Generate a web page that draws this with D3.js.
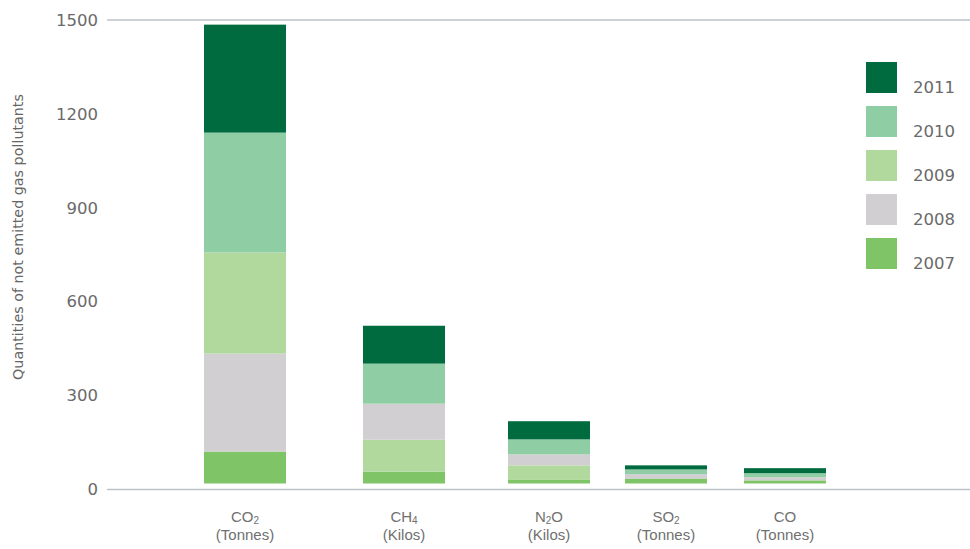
<!DOCTYPE html>
<html>
<head>
<meta charset="utf-8">
<script src="https://cdn.jsdelivr.net/npm/d3@7"></script>
<style>
  body { margin: 0; background: #fff; }
  text { fill: #666; }
</style>
</head>
<body>
<div id="chart"></div>
<script>
// gases (underscore marks a subscript digit) and their units
var gases = ["CO_2", "CH_4", "N_2O", "SO_2", "CO"];
var units = ["Tonnes", "Kilos", "Kilos", "Tonnes", "Tonnes"];
var years = ["2007", "2008", "2009", "2010", "2011"];

var v2007 = [102, 38, 13, 16, 10];
var v2008 = [313, 115, 35, 14, 10];
var v2009 = [323, 102, 45, 0, 0];
var v2010 = [383, 128, 48, 15, 13];
var v2011 = [345, 121, 58, 13, 16];

// stacking order of years inside each bar, bottom to top
var stackOrders = [
  ["2007", "2008", "2009", "2010", "2011"],
  ["2007", "2009", "2008", "2010", "2011"],
  ["2007", "2009", "2008", "2010", "2011"],
  ["2007", "2008", "2009", "2010", "2011"],
  ["2007", "2008", "2009", "2010", "2011"]
];

var yTicks = [0, 300, 600, 900, 1200, 1500];

var seriesByYear = {"2007": v2007, "2008": v2008, "2009": v2009, "2010": v2010, "2011": v2011};
var colors = {
  "2007": "#80c468",
  "2008": "#d1cfd2",
  "2009": "#b1d99e",
  "2010": "#8fcea4",
  "2011": "#006b3f"
};

var svg_Width = 970;
var svg_Height = 549;
var barWidth = 82;
var baseGap = 6;

var svg = d3.select("#chart")
  .append("svg")
  .attr("width", svg_Width)
  .attr("height", svg_Height);

var yScale = d3.scaleLinear().domain([0, 1500]).range([489.5, 20]);
var xScale = d3.scaleOrdinal().domain(gases).range([245, 404, 549, 666, 785]);

// top and bottom rules
svg.selectAll(".rule")
  .data([0, 1500])
  .enter()
  .append("line")
  .attr("x1", 107)
  .attr("x2", svg_Width)
  .attr("y1", function(d) { return yScale(d); })
  .attr("y2", function(d) { return yScale(d); })
  .attr("stroke", "#bac2c8")
  .attr("stroke-width", 1.5);

// y axis labels
var leftAxis = d3.axisLeft(yScale).tickValues(yTicks).tickSize(0).tickPadding(0)
  .tickFormat(d3.format("d"));
var yAxisG = svg.append("g")
  .attr("transform", "translate(98,0)")
  .call(leftAxis);
yAxisG.select(".domain").remove();
yAxisG.selectAll("text")
  .attr("font-family", "DejaVu Sans")
  .attr("font-size", "16.5px")
  .style("fill", "#6a6a6a");

svg.append("text")
  .attr("transform", "translate(23,237) rotate(-90)")
  .attr("text-anchor", "middle")
  .attr("font-family", "DejaVu Sans")
  .attr("font-size", "14.3px")
  .text("Quantities of not emitted gas pollutants");

// build stacked segments
var segments = [];
gases.forEach(function(g, i) {
  var acc = 0;
  stackOrders[i].forEach(function(yr) {
    var v = seriesByYear[yr][i];
    segments.push({gas: g, year: yr, y0: acc, y1: acc + v});
    acc += v;
  });
});

svg.append("g")
  .selectAll("rect")
  .data(segments.filter(function(d) { return d.y1 > d.y0; }))
  .enter()
  .append("rect")
  .attr("x", function(d) { return xScale(d.gas) - barWidth / 2; })
  .attr("width", barWidth)
  .attr("y", function(d) { return yScale(d.y1) - baseGap; })
  .attr("height", function(d) { return yScale(d.y0) - yScale(d.y1); })
  .attr("fill", function(d) { return colors[d.year]; });

// category labels
var xLabels = svg.append("g")
  .selectAll("g")
  .data(gases)
  .enter()
  .append("g")
  .attr("transform", function(d) { return "translate(" + xScale(d) + ",0)"; });

xLabels.each(function(d, i) {
  var t = d3.select(this).append("text")
    .attr("y", 524)
    .attr("text-anchor", "middle")
    .attr("font-family", "Liberation Sans")
    .attr("font-size", "15px")
    .style("fill", "#707070");
  var parts = d.split(/(_\d)/);
  parts.forEach(function(p) {
    if (!p) return;
    if (p[0] === "_") {
      t.append("tspan").attr("font-size", "10px").attr("dy", 2).text(p.slice(1));
    } else {
      t.append("tspan").attr("dy", t.selectAll("tspan").size() ? -2 : 0).text(p);
    }
  });
  d3.select(this).append("text")
    .attr("y", 540)
    .attr("text-anchor", "middle")
    .attr("font-family", "Liberation Sans")
    .attr("font-size", "15px")
    .style("fill", "#707070")
    .text("(" + units[i] + ")");
});

// legend
var legendYears = years.slice().reverse();
var legend = svg.append("g")
  .selectAll("g")
  .data(legendYears)
  .enter()
  .append("g")
  .attr("transform", function(d, i) { return "translate(866," + (62 + i * 44) + ")"; });

legend.append("rect")
  .attr("width", 31)
  .attr("height", 31)
  .attr("fill", function(d) { return colors[d]; });

legend.append("text")
  .attr("x", 47)
  .attr("y", 31)
  .attr("font-family", "DejaVu Sans")
  .attr("font-size", "16.5px")
  .style("fill", "#6a6a6a")
  .text(function(d) { return d; });
</script>
</body>
</html>
